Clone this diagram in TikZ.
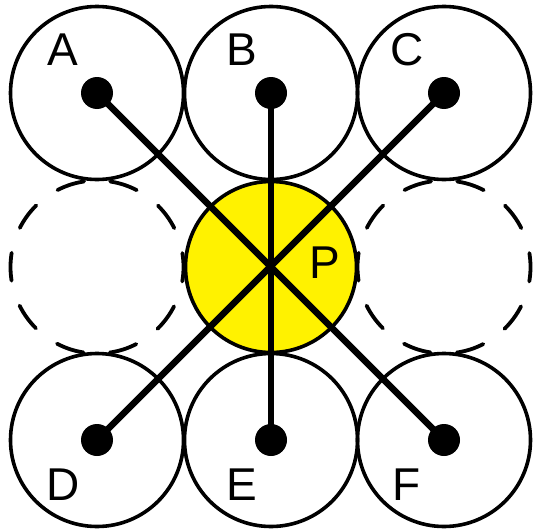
\documentclass[tikz,border=0pt]{standalone}
\usepackage{fontspec}
\setmainfont{Liberation Sans}
\begin{document}
\begin{tikzpicture}[x=1pt,y=-1pt,
  ring/.style={draw=black,line width=3.6pt,minimum size=173pt,circle,inner sep=0pt},
  dashring/.style={draw=black,line width=3.8pt,minimum size=173pt,circle,inner sep=0pt,line cap=round,dash pattern=on 28pt off 26.3pt,dash phase=14pt},
  centre/.style={draw=black,fill=yellow,line width=3.6pt,minimum size=171pt,circle,inner sep=0pt},
  dot/.style={fill=black,circle,minimum size=32pt,inner sep=0pt},
  spoke/.style={line width=6.5pt},
  lbl/.style={font=\fontsize{46}{46}\selectfont,inner sep=0pt}]
\useasboundingbox (0,0) rectangle (533,530);
\node[ring] (cA) at (97,93) {};
\node[ring] (cB) at (271,93) {};
\node[ring] (cC) at (444,93) {};
\node[dashring] (cL) at (97,267) {};
\node[dashring] (cR) at (444,267) {};
\node[ring] (cD) at (97,440) {};
\node[ring] (cE) at (271,440) {};
\node[ring] (cF) at (444,440) {};
\node[centre] (cP) at (271,267) {};
\draw[spoke] (cA.center) -- (cF.center);
\draw[spoke] (cB.center) -- (cE.center);
\draw[spoke] (cC.center) -- (cD.center);
\node[dot] (dA) at (cA.center) {};
\node[dot] (dB) at (cB.center) {};
\node[dot] (dC) at (cC.center) {};
\node[dot] (dD) at (cD.center) {};
\node[dot] (dE) at (cE.center) {};
\node[dot] (dF) at (cF.center) {};
\node[lbl] (lA) at (63,50) {A};
\node[lbl] (lB) at (242,50) {B};
\node[lbl] (lC) at (407,50) {C};
\node[lbl] (lD) at (63,485) {D};
\node[lbl] (lE) at (242,485) {E};
\node[lbl] (lF) at (407,485) {F};
\node[lbl] (lP) at (325,263) {P};
\end{tikzpicture}
\end{document}
